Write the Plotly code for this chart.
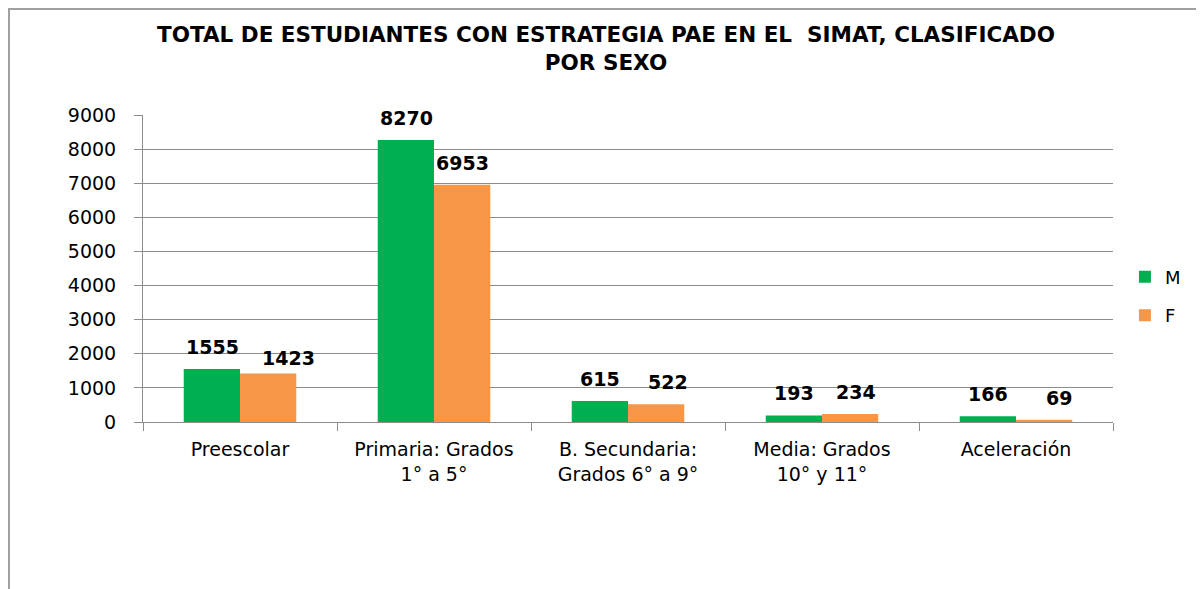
import plotly.graph_objects as go

categories = ["Preescolar", "Primaria: Grados<br>1° a 5°", "B. Secundaria:<br>Grados 6° a 9°",
              "Media: Grados<br>10° y 11°", "Aceleración"]
male = [1555, 8270, 615, 193, 166]
female = [1423, 6953, 522, 234, 69]
series_names = ["M", "F"]
colors = ["#00B050", "#F79646"]
y_ticks = [0, 1000, 2000, 3000, 4000, 5000, 6000, 7000, 8000, 9000]

# manual label nudges (pixels), as placed in the original chart
male_label_dx = [0, 0, 0, 0, 0]
male_label_dy = [0, 0, 0, 0, 0]
female_label_dx = [20, 0, 12, 6, 15]
female_label_dy = [-7, 0, 0, 0, 0]

fig = go.Figure()
for name, vals, col in zip(series_names, [male, female], colors):
    fig.add_trace(go.Bar(x=categories, y=vals, name=name, marker_color=col,
                         marker_line_width=0, legendgroup=name))

# data labels
for shift, vals, dxs, dys in zip([-28, 28], [male, female],
                                 [male_label_dx, female_label_dx],
                                 [male_label_dy, female_label_dy]):
    for c, v, dx, dy in zip(categories, vals, dxs, dys):
        fig.add_annotation(x=c, y=v, text=f"<b>{v}</b>", showarrow=False,
                           xshift=shift + dx, yshift=9 + dy, yanchor="bottom",
                           font=dict(family="DejaVu Sans", size=19, color="black"))

fig.update_layout(
    width=1196, height=581,
    paper_bgcolor="white", plot_bgcolor="white",
    margin=dict(l=135, r=91, t=107, b=167, autoexpand=False),
    barmode="group", bargap=0.42, bargroupgap=0,
    title=dict(text="<b>TOTAL DE ESTUDIANTES CON ESTRATEGIA PAE EN EL  SIMAT, CLASIFICADO<br>POR SEXO</b>",
               x=0.5, xanchor="center", y=0.941, yanchor="top", yref="container",
               font=dict(family="DejaVu Sans", size=21.5, color="black")),
    legend=dict(x=1.0123, xanchor="left", y=0.41, yanchor="middle",
                font=dict(family="DejaVu Sans", size=18, color="black"),
                tracegroupgap=12, bgcolor="rgba(0,0,0,0)"),
    font=dict(family="DejaVu Sans", color="black"),
)
fig.update_yaxes(range=[0, 9000], tickvals=y_ticks, showgrid=True, gridcolor="#8C8C8C",
                 gridwidth=1, showline=True, linecolor="#8C8C8C", ticks="outside",
                 ticklen=8, tickcolor="#8C8C8C", tickfont=dict(size=19, color="black"),
                 ticklabelstandoff=14, zeroline=False)
fig.update_xaxes(showgrid=False, showline=True, linecolor="#8C8C8C", ticks="outside",
                 tickson="boundaries", ticklen=8, tickcolor="#8C8C8C",
                 tickfont=dict(size=19, color="black"), ticklabelstandoff=10)

# chart frame (left and top edges visible)
fig.add_shape(type="rect", xref="paper", yref="paper",
              x0=-134/970, x1=1.3, y0=-1.0, y1=1 + 106/307,
              line=dict(color="#A0A0A0", width=2), fillcolor="rgba(0,0,0,0)", layer="below")

fig.write_html("out.html")
